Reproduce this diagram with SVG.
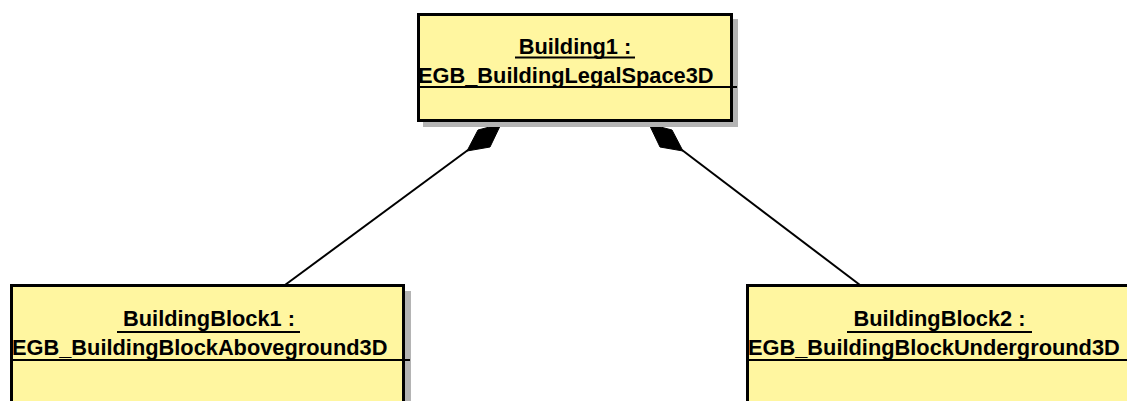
<svg xmlns="http://www.w3.org/2000/svg" width="1127" height="401" viewBox="0 0 1127 401">
<style>
.shadow{fill:#b4b4b4}
.box{fill:#fff6a0;stroke:#000;stroke-width:3}
.div{stroke:#000;stroke-width:2}
.ul{stroke:#000;stroke-width:2.2}
.t{font-family:"Liberation Sans",Arial,sans-serif;font-weight:bold;font-size:21.8px;fill:#000}
.conn{stroke:#000;stroke-width:2;fill:none}
.dia{fill:#000;stroke:#000;stroke-width:1}
</style>
<rect width="1127" height="401" fill="#fff"/>
<g id="connectors">
<line class="conn" x1="285" y1="285" x2="468" y2="150"/>
<polygon class="dia" points="467,151 490,147 501,124 478,130"/>
<line class="conn" x1="860" y1="285" x2="682" y2="150"/>
<polygon class="dia" points="683,151 660,147 649,124 672,130"/>
</g>
<g id="building1">
<rect class="shadow" x="423" y="19" width="315" height="108"/>
<rect class="box" x="418.5" y="14.5" width="313" height="106"/>
<line class="div" x1="417" y1="87" x2="737" y2="87"/>
<text class="t" x="575" y="54" text-anchor="middle">Building1 :</text>
<line class="ul" x1="515" y1="57.5" x2="635" y2="57.5"/>
<text class="t" x="418" y="83">EGB_BuildingLegalSpace3D</text>
</g>
<g id="buildingblock1">
<rect class="shadow" x="16" y="291" width="395" height="150"/>
<rect class="box" x="11.5" y="285.5" width="392" height="150"/>
<line class="div" x1="10" y1="360" x2="410" y2="360"/>
<text class="t" x="209" y="326" text-anchor="middle">BuildingBlock1 :</text>
<line class="ul" x1="117" y1="332" x2="300" y2="332"/>
<text class="t" x="12" y="355">EGB_BuildingBlockAboveground3D</text>
</g>
<g id="buildingblock2">
<rect class="shadow" x="752" y="291" width="390" height="150"/>
<rect class="box" x="747.5" y="285.5" width="383" height="150"/>
<line class="div" x1="746" y1="360" x2="1127" y2="360"/>
<text class="t" x="939.5" y="326" text-anchor="middle">BuildingBlock2 :</text>
<line class="ul" x1="847" y1="332" x2="1032" y2="332"/>
<text class="t" x="748" y="355">EGB_BuildingBlockUnderground3D</text>
</g>
</svg>
